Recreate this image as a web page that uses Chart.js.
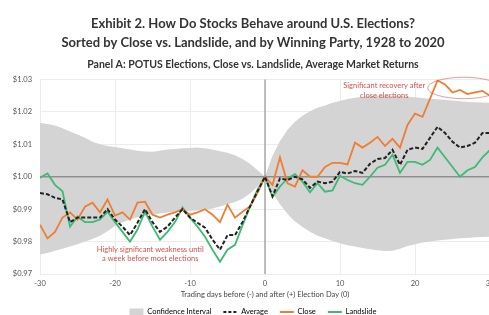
<!DOCTYPE html>
<html>
<head>
<meta charset="utf-8">
<script src="https://cdn.jsdelivr.net/npm/chart.js@4"></script>
<style>
	html, body { margin: 0; padding: 0; background: #fff; overflow: hidden; }
</style>
</head>
<body>
<canvas id="elections-chart" width="506" height="315"></canvas>
<script>
// Trading days around election day
const days = [-30, -29, -28, -27, -26, -25, -24, -23, -22, -21, -20, -19, -18, -17, -16, -15, -14, -13, -12, -11,
	-10, -9, -8, -7, -6, -5, -4, -3, -2, -1, 0, 1, 2, 3, 4, 5, 6, 7, 8, 9,
	10, 11, 12, 13, 14, 15, 16, 17, 18, 19, 20, 21, 22, 23, 24, 25, 26, 27, 28, 29, 30];

const average = [0.9950, 0.9946, 0.9935, 0.9930, 0.9860, 0.9874, 0.9874, 0.9874, 0.9874, 0.9900,
	0.9868, 0.9846, 0.9820, 0.9858, 0.9900, 0.9860, 0.9830, 0.9846, 0.9874, 0.9900,
	0.9874, 0.9858, 0.9843, 0.9806, 0.9775, 0.9820, 0.9820, 0.9860, 0.9908, 0.9955,
	1.0000, 0.9940, 0.9995, 0.9990, 1.0000, 0.9992, 0.9966, 0.9985, 0.9980, 0.9985,
	1.0015, 1.0010, 1.0018, 1.0012, 1.0040, 1.0055, 1.0058, 1.0083, 1.0037, 1.0083,
	1.0090, 1.0086, 1.0120, 1.0154, 1.0135, 1.0108, 1.0090, 1.0095, 1.0105, 1.0135, 1.0135];

const close = [0.9852, 0.9810, 0.9830, 0.9874, 0.9890, 0.9868, 0.9908, 0.9920, 0.9890, 0.9930,
	0.9880, 0.9890, 0.9868, 0.9920, 0.9923, 0.9883, 0.9874, 0.9883, 0.9890, 0.9900,
	0.9883, 0.9890, 0.9900, 0.9883, 0.9860, 0.9914, 0.9874, 0.9892, 0.9908, 0.9950,
	1.0000, 0.9975, 1.0060, 0.9980, 0.9970, 1.0020, 1.0000, 1.0000, 1.0030, 1.0043,
	1.0043, 1.0038, 1.0105, 1.0090, 1.0105, 1.0123, 1.0095, 1.0117, 1.0090, 1.0160,
	1.0195, 1.0185, 1.0240, 1.0297, 1.0285, 1.0260, 1.0268, 1.0255, 1.0260, 1.0265, 1.0250];

const landslide = [0.9997, 1.0010, 0.9975, 0.9955, 0.9846, 0.9877, 0.9860, 0.9860, 0.9868, 0.9892,
	0.9860, 0.9830, 0.9800, 0.9837, 0.9892, 0.9846, 0.9806, 0.9830, 0.9860, 0.9905,
	0.9874, 0.9846, 0.9815, 0.9775, 0.9738, 0.9775, 0.9790, 0.9850, 0.9908, 0.9960,
	1.0000, 0.9938, 0.9970, 0.9995, 1.0008, 0.9985, 0.9952, 0.9980, 0.9954, 0.9958,
	1.0003, 0.9990, 0.9980, 0.9975, 1.0000, 1.0028, 1.0037, 1.0068, 1.0012, 1.0046,
	1.0046, 1.0037, 1.0052, 1.0090, 1.0060, 1.0030, 1.0000, 1.0020, 1.0030, 1.0060, 1.0083];

const ciUpper = [1.0166, 1.0163, 1.0158, 1.0150, 1.0140, 1.0130, 1.0120, 1.0108, 1.0100, 1.0095,
	1.0092, 1.0088, 1.0084, 1.0080, 1.0078, 1.0077, 1.0080, 1.0084, 1.0086, 1.0088,
	1.0089, 1.0090, 1.0088, 1.0084, 1.0079, 1.0074, 1.0066, 1.0055, 1.0040, 1.0020,
	1.0000, 1.0065, 1.0110, 1.0145, 1.0170, 1.0188, 1.0202, 1.0213, 1.0220, 1.0228,
	1.0234, 1.0240, 1.0244, 1.0247, 1.0249, 1.0250, 1.0250, 1.0250, 1.0249, 1.0247,
	1.0245, 1.0243, 1.0241, 1.0239, 1.0237, 1.0235, 1.0233, 1.0231, 1.0230, 1.0229, 1.0228];

const ciLower = [0.9760, 0.9765, 0.9772, 0.9778, 0.9785, 0.9792, 0.9800, 0.9808, 0.9818, 0.9832,
	0.9848, 0.9860, 0.9868, 0.9875, 0.9880, 0.9884, 0.9887, 0.9890, 0.9892, 0.9893,
	0.9895, 0.9896, 0.9898, 0.9902, 0.9908, 0.9915, 0.9922, 0.9932, 0.9948, 0.9970,
	1.0000, 0.9950, 0.9915, 0.9885, 0.9862, 0.9845, 0.9830, 0.9818, 0.9810, 0.9802,
	0.9795, 0.9789, 0.9785, 0.9780, 0.9776, 0.9773, 0.9771, 0.9772, 0.9778, 0.9786,
	0.9792, 0.9797, 0.9800, 0.9803, 0.9806, 0.9808, 0.9810, 0.9811, 0.9813, 0.9814, 0.9815];

const xTicks = [-30, -20, -10, 0, 10, 20, 30];
const yTicks = [0.97, 0.98, 0.99, 1.00, 1.01, 1.02, 1.03];

const ciColor = "#d4d4d4";
const noteColor = "#d2514c";

const points = arr => arr.map((v, i) => ({ x: days[i], y: v }));

Chart.defaults.font.family = "Lato";

// linhas de referência (1.00 e dia 0) desenhadas logo depois do intervalo
const zeroLines = {
	id: "zeroLines",
	afterDatasetDraw(chart, args) {
		if (args.index !== 3) return;
		const { ctx, chartArea, scales: { x, y } } = chart;
		ctx.save();
		ctx.strokeStyle = "#8f8f8f";
		ctx.lineWidth = 1.5;
		ctx.beginPath();
		ctx.moveTo(chartArea.left, y.getPixelForValue(1));
		ctx.lineTo(chartArea.right, y.getPixelForValue(1));
		ctx.stroke();
		ctx.strokeStyle = "#a8a8a8";
		ctx.beginPath();
		ctx.moveTo(x.getPixelForValue(0), chartArea.top);
		ctx.lineTo(x.getPixelForValue(0), chartArea.bottom);
		ctx.stroke();
		ctx.restore();
	}
};

const notes = {
	id: "notes",
	afterDraw(chart) {
		const { ctx, scales: { x, y } } = chart;
		ctx.save();
		ctx.fillStyle = noteColor;
		ctx.font = "7.5px Lato";
		ctx.textAlign = "center";
		ctx.textBaseline = "middle";
		ctx.fillText("Significant recovery after", x.getPixelForValue(15.9), y.getPixelForValue(1.0280));
		ctx.fillText("close elections", x.getPixelForValue(15.9), y.getPixelForValue(1.0252));
		ctx.fillText("Highly significant weakness until", x.getPixelForValue(-15.3), y.getPixelForValue(0.9775));
		ctx.fillText("a week before most elections", x.getPixelForValue(-15.3), y.getPixelForValue(0.9748));

		const cx = x.getPixelForValue(26.5);
		const cy = y.getPixelForValue(1.0274);
		const rx = x.getPixelForValue(26.5) - x.getPixelForValue(21.7);
		const ry = y.getPixelForValue(1.0274) - y.getPixelForValue(1.0307);
		ctx.strokeStyle = "rgba(210, 81, 76, 0.55)";
		ctx.lineWidth = 1;
		ctx.beginPath();
		ctx.ellipse(cx, cy, rx, ry, 0, 0, 2 * Math.PI);
		ctx.stroke();
		ctx.restore();
	}
};

new Chart(document.getElementById("elections-chart"), {
	type: "line",
	data: {
		datasets: [
			{
				label: "Average",
				data: points(average),
				borderColor: "#222222",
				borderWidth: 2,
				borderDash: [4, 2],
				pointRadius: 0,
				fill: false
			},
			{
				label: "Close",
				data: points(close),
				borderColor: "#ef7d32",
				borderWidth: 1.8,
				pointRadius: 0,
				fill: false
			},
			{
				label: "Landslide",
				data: points(landslide),
				borderColor: "#3dba74",
				borderWidth: 1.8,
				pointRadius: 0,
				fill: false
			},
			{
				label: "Confidence Interval",
				data: points(ciUpper),
				borderWidth: 0,
				borderColor: ciColor,
				backgroundColor: ciColor,
				pointRadius: 0,
				fill: "+1"
			},
			{
				label: "ciLower",
				data: points(ciLower),
				borderWidth: 0,
				borderColor: ciColor,
				pointRadius: 0,
				fill: false
			}
		]
	},
	options: {
		responsive: false,
		animation: false,
		layout: {
			padding: { left: 0, right: 0, top: 0, bottom: -10.75 }
		},
		plugins: {
			title: {
				display: true,
				text: [
					"Exhibit 2. How Do Stocks Behave around U.S. Elections?",
					"Sorted by Close vs. Landslide, and by Winning Party, 1928 to 2020"
				],
				color: "#333333",
				font: { size: 13, weight: "bold", lineHeight: 1.42 },
				padding: { top: 15, bottom: 6 }
			},
			subtitle: {
				display: true,
				text: "Panel A: POTUS Elections, Close vs. Landslide, Average Market Returns",
				color: "#333333",
				font: { size: 10.5, weight: "bold" },
				padding: { top: 0, bottom: 9 }
			},
			legend: {
				position: "bottom",
				labels: {
					color: "#444444",
					font: { size: 7.5 },
					usePointStyle: true,
					pointStyleWidth: 14,
					boxHeight: 7,
					padding: 12,
					generateLabels: () => [
						{ text: "Confidence Interval", fillStyle: ciColor, strokeStyle: ciColor, lineWidth: 0, pointStyle: "rect", datasetIndex: 3 },
						{ text: "Average", fillStyle: "#222222", strokeStyle: "#222222", lineWidth: 2, lineDash: [3, 2], pointStyle: "line", datasetIndex: 0 },
						{ text: "Close", fillStyle: "#ef7d32", strokeStyle: "#ef7d32", lineWidth: 1.8, pointStyle: "line", datasetIndex: 1 },
						{ text: "Landslide", fillStyle: "#3dba74", strokeStyle: "#3dba74", lineWidth: 1.8, pointStyle: "line", datasetIndex: 2 }
					]
				}
			},
			tooltip: { enabled: false }
		},
		scales: {
			x: {
				type: "linear",
				min: -30,
				max: 30,
				afterBuildTicks: scale => { scale.ticks = xTicks.map(v => ({ value: v })); },
				afterFit: scale => { scale.paddingRight = 16; scale.height = 22.25; },
				ticks: {
					color: "#555555",
					font: { size: 7.5 },
					padding: 5,
					maxRotation: 0
				},
				grid: { color: "#ececec", drawTicks: false },
				border: { display: false },
				title: {
					display: true,
					text: "Trading days before (-) and after (+) Election Day (0)",
					color: "#444444",
					font: { size: 7.5 },
					padding: { top: 0, bottom: -3 }
				}
			},
			y: {
				min: 0.97,
				max: 1.03,
				afterBuildTicks: scale => { scale.ticks = yTicks.map(v => ({ value: v })); },
				afterFit: scale => { scale.width = 40; scale.paddingTop = 0; scale.paddingBottom = 0; },
				ticks: {
					color: "#555555",
					font: { size: 7.5 },
					padding: 8,
					callback: v => "$" + v.toFixed(2)
				},
				grid: { color: "#ececec", drawTicks: false },
				border: { display: false }
			}
		}
	},
	plugins: [zeroLines, notes]
});
</script>
</body>
</html>
